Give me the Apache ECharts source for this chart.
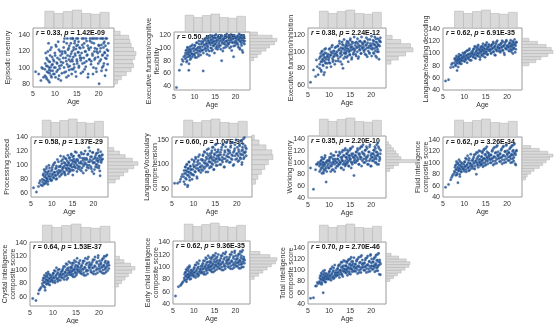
<!DOCTYPE html>
<html>
<head>
<meta charset="utf-8">
<script src="https://cdn.jsdelivr.net/npm/echarts@6/dist/echarts.min.js"></script>
<style>
html,body{margin:0;padding:0;background:#fff}
#chart{width:554px;height:324px}
</style>
</head>
<body>
<div id="chart"></div>
<script>
// ages of the subjects (same people in every panel)
var ages = [5.6, 6.3, 7.0, 7.4,
  7.7, 7.8, 8.0, 8.1, 8.2, 8.3, 8.4, 8.5, 8.6, 8.7, 8.8, 8.9, 9.0, 9.1, 9.2, 9.3, 9.5, 9.6,
  9.8, 9.9, 10.0, 10.1, 10.2, 10.4, 10.5, 10.6, 10.8, 10.9, 11.0, 11.1, 11.3, 11.4, 11.6, 11.7,
  11.9, 12.0, 12.1, 12.2, 12.4, 12.5, 12.6, 12.7, 12.8, 12.9, 13.0, 13.1, 13.2, 13.3, 13.4, 13.6, 13.7, 13.8,
  13.9, 14.0, 14.1, 14.2, 14.3, 14.4, 14.5, 14.6, 14.7, 14.8, 14.9, 15.0, 15.1, 15.2, 15.3, 15.4, 15.5, 15.7, 15.8, 15.9,
  16.1, 16.2, 16.3, 16.5, 16.6, 16.7, 16.8, 17.0, 17.1, 17.2, 17.3, 17.5, 17.6, 17.8, 17.9, 18.0,
  18.2, 18.3, 18.5, 18.6, 18.8, 18.9, 19.0, 19.2, 19.3, 19.5, 19.6, 19.8, 19.9, 20.0, 20.1,
  20.3, 20.4, 20.5, 20.6, 20.8, 20.9, 21.0, 21.1, 21.2, 21.3, 21.4, 21.5, 21.6, 21.7, 21.9, 22.0, 22.2,
  6.8, 7.2,
  7.75, 7.9, 8.05, 8.15, 8.25, 8.45, 8.55, 8.65, 8.75, 8.85, 8.95, 9.05, 9.25, 9.35, 9.45, 9.65,
  9.85, 10.05, 10.15, 10.3, 10.45, 10.65, 10.75, 10.95, 11.05, 11.2, 11.35, 11.5, 11.65,
  11.85, 12.05, 12.15, 12.3, 12.45, 12.65, 12.85, 13.05, 13.15, 13.25, 13.45, 13.55, 13.65, 13.85,
  13.95, 14.05, 14.15, 14.25, 14.35, 14.55, 14.65, 14.85, 14.95, 15.05, 15.25, 15.35, 15.45, 15.6, 15.75, 15.95,
  16.05, 16.25, 16.4, 16.55, 16.75, 16.9, 17.05, 17.25, 17.4, 17.55, 17.7, 17.85, 18.05,
  18.25, 18.4, 18.55, 18.7, 18.85, 19.05, 19.15, 19.4, 19.55, 19.7, 19.85, 20.05,
  20.25, 20.45, 20.65, 20.75, 20.85, 21.05, 21.15, 21.35, 21.45, 21.55, 21.75, 21.85, 22.05, 22.15];

var episodic = [95, 92, 100, 88,
  98, 105, 88, 112, 95, 102, 120, 84, 108, 97, 93, 115, 100, 90, 125, 103, 96, 110,
  108, 92, 118, 100, 128, 95, 105, 112, 86, 122, 102, 99, 115, 107, 93, 120,
  112, 125, 100, 136, 118, 95, 108, 130, 104, 115, 122, 90, 110, 127, 102, 136, 117, 98,
  120, 108, 136, 113, 125, 100, 130, 117, 95, 123, 136, 110, 105, 128, 119, 132, 102, 115, 124, 109,
  118, 136, 105, 125, 112, 130, 98, 120, 136, 108, 115, 127, 92, 122, 110, 133,
  125, 108, 136, 115, 100, 130, 120, 112, 136, 95, 123, 118, 105, 128, 80,
  120, 136, 110, 128, 100, 116, 136, 125, 105, 132, 118, 112, 136, 97, 122, 115, 130,
  84, 99,
  90, 118, 102, 86, 110, 94, 130, 100, 82, 107, 122, 96, 88, 113, 104, 92,
  100, 115, 88, 126, 106, 97, 132, 90, 110, 120, 84, 103, 117,
  106, 132, 94, 120, 112, 88, 136, 101, 124, 97, 114, 108, 130, 92,
  110, 136, 98, 122, 104, 133, 115, 89, 127, 108, 136, 119, 100, 125, 112, 93,
  112, 128, 95, 136, 106, 120, 101, 133, 116, 88, 124, 110, 136,
  104, 131, 117, 92, 136, 110, 124, 99, 120, 136, 113, 127,
  108, 124, 96, 136, 115, 102, 130, 119, 90, 127, 111, 136, 104, 121];
var flexibility = [38, 65, 82, 86,
  88, 92, 85, 97, 80, 94, 100, 90, 65, 96, 87, 102, 93, 84, 98, 91, 105, 89,
  95, 100, 88, 104, 92, 98, 85, 108, 96, 101, 90, 106, 99, 94, 110, 97,
  102, 108, 64, 97, 112, 104, 100, 115, 95, 106, 110, 103, 98, 113, 107, 88, 109, 116,
  105, 112, 100, 118, 108, 97, 114, 110, 103, 116, 106, 120, 111, 99, 115, 109, 104, 117, 113, 101,
  110, 116, 104, 112, 80, 118, 107, 113, 100, 115, 109, 119, 105, 111, 117, 103,
  112, 106, 118, 109, 115, 102, 113, 120, 108, 86, 116, 110, 104, 117, 111,
  114, 108, 119, 105, 112, 117, 100, 115, 110, 120, 107, 113, 96, 116, 109, 118, 111,
  74, 79,
  83, 96, 78, 90, 101, 86, 93, 75, 98, 88, 82, 95, 103, 91, 86, 99,
  90, 104, 85, 97, 108, 93, 100, 87, 111, 95, 102, 89, 106,
  96, 110, 92, 105, 114, 99, 107, 90, 117, 102, 111, 95, 108, 120,
  100, 113, 95, 108, 119, 104, 110, 92, 116, 106, 121, 101, 112, 98, 118, 107,
  104, 115, 98, 120, 109, 95, 113, 106, 118, 101, 111, 122, 108,
  106, 117, 100, 112, 121, 96, 109, 114, 103, 119, 108, 115,
  107, 118, 101, 113, 122, 98, 110, 116, 104, 120, 93, 112, 117, 106];
var inhibition = [63, 78, 90, 72,
  92, 85, 98, 78, 95, 88, 101, 90, 83, 96, 93, 75, 99, 87, 104, 91, 94, 86,
  97, 90, 103, 94, 86, 100, 96, 106, 92, 88, 101, 98, 95, 105, 89, 99,
  100, 95, 107, 92, 103, 110, 98, 88, 105, 101, 96, 112, 104, 80, 108, 99, 102, 94,
  104, 98, 110, 101, 107, 95, 112, 103, 100, 108, 97, 114, 105, 102, 109, 93, 106, 111, 99, 104,
  103, 108, 97, 112, 105, 100, 110, 94, 106, 113, 102, 107, 98, 111, 104, 109,
  106, 100, 112, 103, 96, 109, 105, 115, 101, 107, 98, 110, 104, 108, 95,
  105, 110, 99, 113, 104, 108, 101, 116, 106, 93, 111, 103, 109, 100, 114, 107, 112,
  70, 82,
  80, 94, 88, 76, 100, 91, 84, 97, 72, 89, 103, 93, 86, 98, 81, 95,
  92, 87, 104, 96, 82, 99, 108, 90, 94, 101, 85, 97, 106,
  96, 107, 89, 102, 113, 94, 99, 85, 109, 104, 92, 115, 98, 106,
  99, 108, 93, 113, 104, 88, 110, 101, 96, 116, 106, 91, 112, 103, 97, 118,
  101, 111, 95, 106, 116, 92, 108, 103, 113, 98, 118, 105, 110,
  102, 113, 97, 108, 117, 94, 111, 105, 99, 115, 107, 119,
  103, 114, 98, 109, 118, 95, 112, 106, 100, 116, 108, 91, 113, 117];
var decoding = [55, 57, 82, 78,
  85, 90, 80, 93, 87, 72, 91, 88, 84, 95, 89, 92, 86, 97, 90, 83, 94, 88,
  92, 98, 88, 101, 94, 90, 104, 96, 93, 99, 91, 106, 95, 100, 89, 103,
  98, 104, 95, 108, 100, 93, 110, 102, 97, 106, 99, 112, 101, 96, 107, 103, 94, 109,
  102, 108, 99, 112, 105, 96, 110, 104, 101, 114, 107, 100, 115, 103, 109, 98, 111, 106, 113, 104,
  106, 112, 101, 115, 108, 103, 117, 110, 98, 113, 107, 119, 104, 111, 109, 114,
  108, 114, 104, 117, 110, 106, 119, 112, 101, 115, 109, 120, 107, 113, 111,
  110, 115, 105, 118, 108, 112, 103, 116, 111, 120, 107, 114, 109, 117, 102, 113, 119,
  77, 84,
  92, 81, 88, 96, 84, 90, 78, 94, 99, 86, 91, 83, 97, 89, 93, 101,
  95, 87, 102, 91, 97, 85, 105, 93, 99, 108, 89, 96, 100,
  101, 94, 107, 98, 112, 92, 104, 109, 96, 114, 100, 106, 90, 111,
  104, 97, 111, 106, 116, 100, 108, 94, 113, 103, 118, 107, 99, 110, 115, 105,
  107, 100, 114, 109, 119, 103, 111, 97, 116, 106, 121, 110, 104,
  109, 102, 116, 111, 121, 105, 113, 98, 118, 108, 122, 112,
  111, 104, 117, 112, 122, 106, 114, 100, 119, 109, 123, 115, 107, 118];
var speed = [68, 62, 75, 72,
  80, 76, 88, 73, 84, 92, 78, 86, 75, 95, 82, 79, 90, 77, 85, 100, 81, 88,
  84, 92, 79, 97, 88, 83, 102, 90, 86, 95, 80, 99, 91, 87, 105, 93,
  90, 98, 113, 86, 102, 94, 108, 97, 91, 104, 99, 88, 110, 96, 101, 93, 106, 100,
  96, 104, 91, 110, 100, 94, 107, 99, 115, 102, 97, 112, 105, 93, 109, 101, 98, 106, 103, 118,
  100, 108, 95, 113, 103, 98, 111, 105, 92, 116, 102, 107, 99, 110, 104, 120,
  102, 110, 97, 115, 105, 125, 100, 108, 112, 95, 106, 118, 103, 109, 88,
  104, 112, 98, 115, 107, 101, 110, 118, 105, 96, 113, 108, 85, 111, 106, 114, 109,
  70, 78,
  71, 86, 79, 94, 74, 83, 90, 77, 98, 81, 88, 73, 92, 84, 96, 80,
  78, 94, 86, 100, 82, 90, 104, 85, 96, 81, 108, 89, 98,
  84, 99, 92, 106, 88, 96, 112, 90, 103, 86, 109, 95, 100, 114,
  88, 103, 95, 111, 91, 100, 116, 93, 107, 86, 113, 98, 105, 119, 96, 108,
  91, 106, 98, 114, 94, 103, 118, 96, 110, 89, 116, 101, 108,
  93, 108, 100, 116, 96, 105, 120, 98, 112, 91, 118, 104,
  94, 110, 101, 117, 97, 106, 122, 99, 113, 92, 119, 104, 108, 115];
var vocabulary = [62, 62, 70, 80,
  75, 88, 60, 95, 82, 70, 100, 86, 55, 92, 78, 105, 84, 68, 97, 90, 80, 110,
  90, 100, 78, 108, 95, 85, 112, 98, 72, 105, 92, 116, 88, 102, 95, 110,
  98, 110, 88, 120, 104, 92, 125, 108, 96, 115, 102, 130, 100, 85, 118, 112, 105, 122,
  105, 118, 95, 128, 110, 100, 135, 115, 90, 122, 108, 140, 112, 98, 125, 118, 106, 130, 114, 120,
  110, 125, 100, 135, 115, 105, 140, 120, 95, 128, 112, 145, 118, 108, 130, 122,
  115, 128, 105, 138, 120, 110, 145, 125, 100, 132, 118, 150, 122, 112, 135,
  118, 130, 108, 140, 122, 112, 148, 128, 104, 135, 120, 152, 125, 115, 138, 126, 132,
  65, 75,
  65, 82, 95, 72, 88, 100, 78, 58, 92, 85, 105, 74, 96, 83, 90, 70,
  80, 96, 105, 86, 115, 92, 75, 100, 108, 88, 120, 95, 84,
  90, 108, 118, 95, 126, 102, 85, 112, 122, 98, 132, 106, 93, 115,
  96, 114, 124, 102, 135, 108, 90, 120, 130, 104, 142, 112, 98, 126, 118, 110,
  100, 120, 130, 108, 140, 112, 95, 125, 136, 106, 146, 116, 128,
  104, 124, 135, 112, 145, 118, 98, 128, 140, 110, 150, 122,
  106, 126, 138, 114, 148, 120, 100, 130, 142, 112, 155, 124, 134, 118];
var working = [91, 55, 97, 100,
  94, 100, 88, 103, 97, 82, 106, 91, 100, 85, 97, 94, 109, 88, 100, 67, 103, 94,
  97, 103, 91, 106, 100, 85, 109, 94, 100, 112, 88, 103, 97, 106, 91, 100,
  100, 106, 94, 112, 103, 97, 115, 100, 109, 91, 106, 118, 103, 97, 112, 100, 121, 94,
  103, 109, 97, 115, 106, 100, 118, 112, 94, 109, 121, 103, 106, 124, 100, 112, 97, 115, 109, 78,
  106, 112, 100, 118, 109, 103, 121, 115, 97, 112, 124, 106, 109, 127, 103, 115,
  106, 115, 100, 121, 109, 103, 124, 112, 97, 118, 127, 106, 112, 94, 109,
  109, 115, 103, 121, 112, 100, 124, 118, 106, 130, 97, 112, 115, 127, 103, 109, 121,
  88, 97,
  85, 97, 103, 91, 109, 94, 100, 82, 106, 88, 97, 112, 91, 100, 85, 103,
  91, 103, 109, 94, 115, 97, 88, 106, 100, 112, 85, 103, 118,
  94, 106, 112, 97, 118, 100, 91, 109, 103, 121, 88, 112, 97, 124,
  97, 109, 115, 100, 121, 103, 94, 112, 106, 124, 91, 115, 100, 127, 109, 103,
  100, 112, 118, 103, 124, 106, 97, 115, 109, 127, 94, 118, 130,
  100, 112, 121, 106, 127, 109, 97, 118, 103, 130, 94, 115,
  103, 115, 121, 106, 127, 109, 100, 118, 112, 133, 97, 124, 106, 115];
var fluid = [57, 62, 74, 80,
  85, 92, 78, 97, 88, 82, 100, 65, 90, 86, 95, 80, 102, 88, 93, 84, 98, 91,
  90, 97, 85, 102, 93, 88, 106, 95, 91, 100, 86, 108, 94, 98, 90, 104,
  96, 104, 90, 110, 99, 94, 115, 102, 80, 107, 100, 118, 97, 105, 112, 101, 95, 120,
  102, 110, 97, 117, 105, 100, 122, 108, 95, 114, 106, 125, 103, 111, 119, 107, 98, 116, 109, 113,
  105, 113, 100, 120, 108, 103, 125, 111, 98, 117, 109, 128, 106, 114, 119, 112,
  108, 115, 102, 122, 110, 105, 127, 113, 100, 119, 111, 130, 107, 116, 121,
  110, 117, 104, 124, 112, 107, 128, 115, 101, 120, 113, 131, 109, 118, 98, 114, 122,
  70, 77,
  83, 95, 88, 102, 79, 92, 98, 86, 105, 90, 76, 96, 84, 100, 93, 89,
  88, 101, 94, 108, 84, 97, 112, 91, 104, 87, 99, 115, 95,
  93, 107, 100, 114, 89, 103, 118, 96, 110, 92, 121, 101, 106, 98,
  97, 111, 104, 119, 93, 107, 124, 100, 115, 96, 128, 109, 103, 117, 112, 106,
  100, 114, 107, 122, 96, 110, 127, 103, 118, 99, 130, 112, 108,
  102, 116, 109, 124, 98, 112, 129, 105, 120, 101, 132, 114,
  104, 118, 110, 126, 100, 114, 130, 107, 122, 103, 133, 116, 96, 120];
var crystal = [58, 55, 70, 74,
  80, 85, 76, 88, 82, 70, 90, 84, 79, 92, 86, 81, 94, 83, 88, 78, 91, 85,
  86, 92, 82, 95, 88, 84, 98, 90, 87, 94, 83, 100, 89, 93, 85, 97,
  92, 98, 88, 102, 94, 90, 105, 96, 91, 100, 86, 108, 95, 99, 103, 93, 97, 110,
  96, 102, 92, 107, 99, 94, 110, 100, 90, 104, 97, 112, 101, 95, 106, 103, 98, 109, 100, 114,
  98, 105, 94, 110, 101, 96, 113, 103, 92, 108, 100, 116, 99, 106, 111, 104,
  100, 107, 96, 112, 103, 98, 115, 105, 94, 110, 102, 118, 101, 108, 113,
  102, 108, 97, 114, 105, 100, 117, 106, 95, 111, 103, 120, 104, 109, 99, 112, 107,
  65, 72,
  77, 88, 82, 92, 74, 86, 95, 80, 90, 84, 97, 79, 87, 93, 83, 89,
  84, 95, 89, 99, 81, 92, 103, 87, 96, 85, 101, 91, 94,
  89, 100, 94, 105, 86, 97, 109, 92, 102, 88, 112, 96, 99, 104,
  93, 104, 98, 110, 90, 101, 114, 96, 107, 92, 117, 100, 105, 111, 97, 103,
  95, 107, 101, 113, 92, 104, 117, 98, 110, 94, 119, 103, 108,
  97, 109, 103, 115, 94, 106, 119, 100, 112, 96, 121, 105,
  98, 110, 104, 116, 95, 107, 120, 101, 113, 97, 122, 106, 110, 102];
var earlyChild = [53, 68, 72, 76,
  82, 88, 78, 92, 85, 80, 95, 87, 83, 97, 89, 84, 100, 86, 91, 81, 94, 88,
  88, 95, 84, 99, 91, 86, 103, 93, 89, 98, 85, 105, 92, 96, 90, 101,
  94, 101, 90, 106, 97, 92, 110, 99, 88, 104, 96, 113, 98, 102, 108, 95, 100, 115,
  99, 106, 94, 112, 102, 97, 116, 104, 92, 109, 100, 118, 103, 107, 114, 101, 96, 111, 105, 120,
  102, 109, 97, 114, 105, 100, 118, 107, 95, 112, 104, 121, 101, 110, 116, 108,
  104, 111, 99, 116, 107, 102, 120, 109, 97, 114, 106, 123, 103, 112, 118,
  106, 112, 101, 118, 108, 104, 121, 110, 98, 115, 107, 124, 105, 113, 100, 116, 111,
  70, 74,
  79, 91, 85, 96, 76, 88, 99, 83, 93, 87, 102, 80, 90, 95, 86, 92,
  86, 98, 91, 103, 83, 95, 107, 89, 100, 87, 110, 93, 97,
  91, 104, 97, 110, 88, 101, 115, 94, 107, 90, 118, 99, 103, 109,
  95, 108, 101, 115, 92, 105, 119, 98, 112, 94, 122, 103, 109, 116, 100, 106,
  98, 111, 104, 118, 95, 108, 122, 101, 115, 97, 124, 106, 112,
  100, 113, 106, 120, 97, 110, 124, 103, 117, 99, 126, 108,
  101, 114, 107, 121, 98, 111, 125, 104, 118, 100, 127, 109, 113, 106];
var total = [50, 51, 72, 76,
  80, 86, 76, 90, 83, 78, 93, 85, 60, 88, 82, 95, 84, 89, 79, 92, 87, 84,
  88, 94, 84, 98, 90, 86, 102, 92, 88, 97, 85, 104, 91, 95, 89, 100,
  95, 102, 91, 107, 98, 93, 110, 100, 96, 105, 92, 114, 99, 103, 108, 97, 101, 116,
  100, 107, 96, 113, 103, 98, 117, 105, 94, 110, 102, 120, 104, 108, 115, 101, 97, 112, 106, 122,
  103, 110, 98, 116, 106, 101, 120, 108, 96, 113, 105, 124, 102, 111, 118, 109,
  105, 112, 100, 118, 108, 103, 122, 110, 97, 115, 107, 126, 104, 113, 120,
  107, 114, 102, 120, 109, 105, 124, 112, 99, 117, 108, 128, 106, 115, 93, 118, 111,
  72, 78,
  78, 90, 84, 95, 75, 87, 98, 82, 92, 86, 100, 79, 89, 94, 85, 91,
  85, 97, 90, 102, 82, 94, 106, 88, 99, 86, 109, 92, 96,
  91, 103, 96, 109, 87, 100, 114, 93, 106, 89, 117, 98, 102, 108,
  95, 108, 101, 115, 91, 104, 119, 97, 111, 93, 123, 102, 109, 116, 99, 106,
  98, 111, 104, 118, 94, 107, 123, 100, 114, 96, 126, 105, 112,
  100, 113, 106, 121, 96, 109, 125, 102, 116, 98, 128, 108,
  101, 115, 107, 122, 97, 110, 127, 104, 118, 99, 130, 109, 114, 92];

// age histogram (top margin of every panel)
var ageBinEdges = [7.7, 9.8, 11.9, 14.0, 16.1, 18.2, 20.3, 22.4];
var ageCounts = [44, 38, 43, 47, 38, 36, 41];

// score histograms (right margin): first bin edge, bin width, counts
var episodicHist = {from: 80, step: 5, counts: [3, 6, 10, 14, 16, 15, 17, 18, 16, 14, 13, 12, 5]};
var flexibilityHist = {from: 80, step: 5, counts: [3, 6, 9, 13, 16, 20, 22, 18, 6]};
var inhibitionHist = {from: 85, step: 5, counts: [4, 10, 16, 22, 20, 12, 5]};
var decodingHist = {from: 80, step: 5, counts: [4, 8, 11, 15, 18, 17, 14, 9, 4]};
var speedHist = {from: 75, step: 5, counts: [5, 8, 11, 14, 18, 21, 17, 12, 8, 4]};
var vocabularyHist = {from: 60, step: 10, counts: [3, 5, 8, 11, 14, 18, 17, 12, 6, 2]};
var workingHist = {from: 85, step: 5, counts: [3, 6, 10, 25, 12, 10, 8, 6, 4, 2]};
var fluidHist = {from: 70, step: 5, counts: [2, 3, 5, 7, 10, 12, 14, 16, 18, 15, 10, 5]};
var crystalHist = {from: 75, step: 5, counts: [3, 6, 9, 12, 15, 18, 14, 8, 4]};
var earlyChildHist = {from: 80, step: 5, counts: [3, 6, 9, 12, 15, 18, 19, 14, 7]};
var totalHist = {from: 80, step: 5, counts: [3, 6, 9, 12, 15, 18, 19, 16, 10, 4]};

var names = ['Episodic memory', 'Executive function/cognitive\nflexibility', 'Executive function/inhibition',
  'Language/reading decoding', 'Processing speed', 'Language/Vocabulary\ncomprehension', 'Working memory',
  'Fluid intelligence\ncomposite score', 'Crystal intelligence\ncomposite score',
  'Early child intelligence\ncomposite score', 'Total intelligence\ncomposite score'];
var rValues = ['0.33', '0.50', '0.38', '0.62', '0.58', '0.60', '0.35', '0.62', '0.64', '0.62', '0.70'];
var pValues = ['1.42E-09', '9.36E-21', '2.24E-12', '6.91E-35', '1.37E-29', '1.07E-31', '2.20E-10',
  '3.26E-34', '1.53E-37', '9.36E-35', '2.70E-46'];
var yRanges = [[76, 149], [34, 125], [56, 129], [40, 142], [55, 140], [34, 156], [40, 145], [40, 145], [47, 141], [40, 142], [40, 150]];
var yTicks = [[80, 100, 120, 140], [40, 60, 80, 100, 120], [60, 80, 100, 120], [40, 60, 80, 100, 120, 140],
  [60, 80, 100, 120, 140], [50, 100, 150], [40, 60, 80, 100, 120, 140], [40, 60, 80, 100, 120, 140],
  [60, 80, 100, 120, 140], [40, 60, 80, 100, 120, 140], [40, 60, 80, 100, 120, 140]];
var xTicks = [5, 10, 15, 20];

var scores = [episodic, flexibility, inhibition, decoding, speed, vocabulary, working, fluid, crystal, earlyChild, total];
var hists = [episodicHist, flexibilityHist, inhibitionHist, decodingHist, speedHist, vocabularyHist,
  workingHist, fluidHist, crystalHist, earlyChildHist, totalHist];

// layout: box left, top, right, bottom, y name gap, right histogram width
var layout = [
  [33, 28, 114, 87, 21, 22],
  [174, 32, 250, 90, 13, 27],
  [308, 28, 386, 88, 13, 27],
  [443, 28, 522, 90, 13, 31],
  [31, 137, 108, 197, 20, 30],
  [172, 137, 252, 197, 13, 21],
  [308, 136, 386, 198, 14, 31],
  [443, 137, 522, 197, 13, 31],
  [30, 242, 115, 306, 13, 20],
  [173, 241, 250, 304, 13, 27],
  [308, 242, 386, 304, 13, 24]
];

var FONT = 'Liberation Sans';
var histStyle = {fill: '#d9d9d9', stroke: '#b0b0b0', lineWidth: 0.5};

var grid = [], xAxis = [], yAxis = [], series = [], title = [];

layout.forEach(function (b, i) {
  var w = b[2] - b[0], h = b[3] - b[1];
  grid.push({left: b[0], top: b[1], width: w, height: h, show: true, borderColor: '#9a9a9a', borderWidth: 1, outerBoundsMode: 'none'});
  grid.push({left: b[0], top: b[1] - 18, width: w, height: 18, outerBoundsMode: 'none'});
  grid.push({left: b[2], top: b[1], width: b[5], height: h, outerBoundsMode: 'none'});

  // scatter axes
  xAxis.push({type: 'value', gridIndex: 3 * i, min: 5, max: 23.5,
    name: 'Age', nameLocation: 'middle', nameGap: 12, nameMoveOverlap: false,
    nameTextStyle: {fontSize: 7, color: '#333', fontFamily: FONT},
    axisLine: {show: false}, axisTick: {show: false}, splitLine: {show: false},
    axisLabel: {customValues: xTicks, fontSize: 7, color: '#333', margin: 4, fontFamily: FONT}});
  yAxis.push({type: 'value', gridIndex: 3 * i, min: yRanges[i][0], max: yRanges[i][1],
    name: names[i], nameLocation: 'middle', nameGap: b[4], nameMoveOverlap: false,
    nameTextStyle: {fontSize: 7, color: '#333', fontFamily: FONT, lineHeight: 8},
    axisLine: {show: false}, axisTick: {show: false}, splitLine: {show: false},
    axisLabel: {customValues: yTicks[i], fontSize: 7, color: '#333', margin: 3, fontFamily: FONT}});
  // top histogram axes
  xAxis.push({type: 'value', gridIndex: 3 * i + 1, min: 5, max: 23.5, show: false});
  yAxis.push({type: 'value', gridIndex: 3 * i + 1, min: 0, max: Math.max.apply(null, ageCounts), show: false});
  // right histogram axes
  xAxis.push({type: 'value', gridIndex: 3 * i + 2, min: 0, max: Math.max.apply(null, hists[i].counts), show: false});
  yAxis.push({type: 'value', gridIndex: 3 * i + 2, min: yRanges[i][0], max: yRanges[i][1], show: false});

  var pts = ages.map(function (a, k) { return [a, scores[i][k]]; }).filter(function (p) { return p[1] != null; });
  series.push({type: 'scatter', xAxisIndex: 3 * i, yAxisIndex: 3 * i, data: pts, symbol: 'circle', symbolSize: 2.5,
    z: 3, silent: true,
    itemStyle: {color: '#1c4682', borderColor: '#5585c0', borderWidth: 0.4}});

  series.push({type: 'custom', xAxisIndex: 3 * i + 1, yAxisIndex: 3 * i + 1, silent: true,
    data: ageCounts.map(function (c, k) { return [ageBinEdges[k], ageBinEdges[k + 1], c]; }),
    encode: {x: [0, 1], y: 2},
    renderItem: function (params, api) {
      var p0 = api.coord([api.value(0), 0]);
      var p1 = api.coord([api.value(1), api.value(2)]);
      return {type: 'rect', shape: {x: p0[0], y: p1[1], width: p1[0] - p0[0], height: p0[1] - p1[1]}, style: histStyle};
    }});

  var hs = hists[i];
  series.push({type: 'custom', xAxisIndex: 3 * i + 2, yAxisIndex: 3 * i + 2, silent: true,
    data: hs.counts.map(function (c, k) { return [c, hs.from + k * hs.step, hs.from + (k + 1) * hs.step]; }),
    encode: {x: 0, y: [1, 2]},
    renderItem: function (params, api) {
      var p0 = api.coord([0, api.value(1)]);
      var p1 = api.coord([api.value(0), api.value(2)]);
      return {type: 'rect', shape: {x: p0[0], y: p1[1], width: p1[0] - p0[0], height: p0[1] - p1[1]}, style: histStyle};
    }});

  title.push({text: '{i|r} = ' + rValues[i] + ', {i|p} = ' + pValues[i], left: b[0] + 3, top: b[1] + 2, padding: 0, z: 1,
    textStyle: {fontSize: 7, fontWeight: 'bold', color: '#111', fontFamily: FONT,
      rich: {i: {fontStyle: 'italic', fontWeight: 'bold', fontSize: 7, color: '#111', fontFamily: FONT}}}});
});

var myChart = echarts.init(document.getElementById('chart'));
myChart.setOption({
  animation: false,
  backgroundColor: '#fff',
  title: title,
  grid: grid,
  xAxis: xAxis,
  yAxis: yAxis,
  series: series
});
</script>
</body>
</html>
